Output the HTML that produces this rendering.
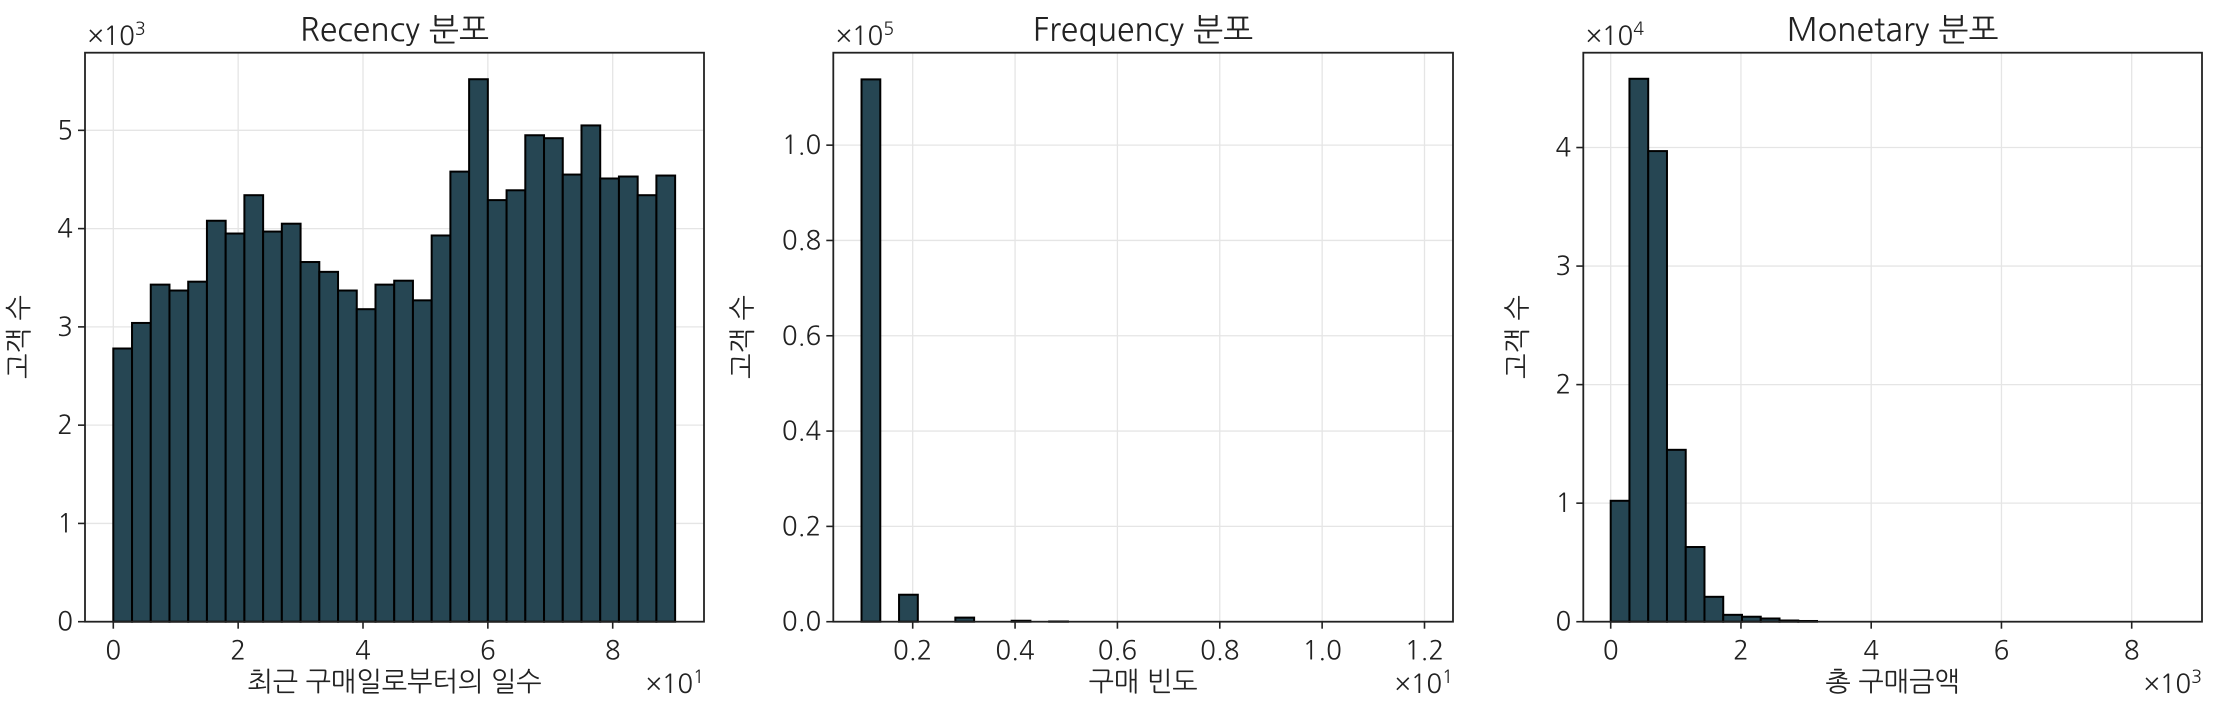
<!DOCTYPE html>
<html><head><meta charset="utf-8"><style>
html,body{margin:0;padding:0;background:#fff}
svg{display:block}
text{font-family:"NanumGothic","Liberation Sans","Noto Sans CJK KR",sans-serif;fill:#222}
</style></head><body>
<svg id="c" width="2217" height="716" viewBox="0 0 2217 716" xmlns="http://www.w3.org/2000/svg"></svg>
<script>
// Recency: 30 bins from 0 to 90 days (x10 units), counts in thousands
const recencyCounts = [2.78,3.04,3.43,3.37,3.46,4.08,3.95,4.34,3.97,4.05,3.66,3.56,3.37,3.18,3.43,3.47,3.27,3.93,4.58,5.52,4.29,4.39,4.95,4.92,4.55,5.05,4.51,4.53,4.34,4.54];
const recencyTicksX = ["0","2","4","6","8"];
const recencyTicksY = ["0","1","2","3","4","5"];
// Frequency: 30 bins from 1 to 12 (x10 units), counts in 1e5
const frequencyCounts = [1.138,0,0.0566,0,0,0.0086,0,0,0.002,0,0.0005,0,0,0,0,0,0,0,0,0,0,0,0,0,0,0,0,0,0,0];
const frequencyTicksX = ["0.2","0.4","0.6","0.8","1.0","1.2"];
const frequencyTicksY = ["0.0","0.2","0.4","0.6","0.8","1.0"];
// Monetary: 30 bins from 0 to 8.64 (x1e3), counts in 1e4
const monetaryCounts = [1.02,4.58,3.97,1.45,0.63,0.21,0.058,0.042,0.027,0.01,0.006,0,0,0,0,0,0,0,0,0,0,0,0,0,0,0,0,0,0,0];
const monetaryTicksX = ["0","2","4","6","8"];
const monetaryTicksY = ["0","1","2","3","4"];

const NS="http://www.w3.org/2000/svg";
const svg=document.getElementById('c');
function mk(tag,attrs,parent){const e=document.createElementNS(NS,tag);for(const k in attrs)e.setAttribute(k,attrs[k]);(parent||svg).appendChild(e);return e;}

function panel(o){
  const g=mk('g',{});
  
  
  const top=52.7,bot=621.7;
  const sx=v=>o.x0px+(v-o.x0)*(o.x1px-o.x0px)/(o.x1-o.x0);
  const sy=v=>bot-v*(bot-top)/o.ymax;
  o.xt.forEach(t=>{const v=parseFloat(t);const l=mk('line',{x1:sx(v),x2:sx(v),y1:top,y2:bot,stroke:'#e5e5e5','stroke-width':1.3},g);});
  o.yt.forEach(t=>{const v=parseFloat(t);const l=mk('line',{x1:o.L,x2:o.R,y1:sy(v),y2:sy(v),stroke:'#e5e5e5','stroke-width':1.3},g);});
  const n=o.counts.length,bw=(o.dmax-o.dmin)/n;
  o.counts.forEach((c,i)=>{
    const xa=sx(o.dmin+i*bw),xb=sx(o.dmin+(i+1)*bw);
    const r=mk('rect',{x:xa,y:sy(c),width:xb-xa,height:Math.max(0,bot-sy(c)),fill:'#264653',stroke:'#000','stroke-width':2},g);
    
    
  });
  const f=mk('rect',{x:o.L,y:top,width:o.R-o.L,height:bot-top,fill:'none',stroke:'#222','stroke-width':1.8},g);
  
  o.xt.forEach(t=>{const x=sx(parseFloat(t));
    mk('line',{x1:x,x2:x,y1:bot,y2:bot+7,stroke:'#222','stroke-width':1.6},g);
    const tx=mk('text',{x:x,y:bot+38,'text-anchor':'middle','font-size':26},g);tx.textContent=t;
    });
  o.yt.forEach(t=>{const y=sy(parseFloat(t));
    mk('line',{x1:o.L-7,x2:o.L,y1:y,y2:y,stroke:'#222','stroke-width':1.6},g);
    const tx=mk('text',{x:o.L-12,y:y+9,'text-anchor':'end','font-size':26},g);tx.textContent=t;
    });
  const ti=mk('text',{x:(o.L+o.R)/2,y:41,'text-anchor':'middle','font-size':32},g);ti.textContent=o.title;
  
  const yo=mk('text',{x:o.L+3,y:45,'font-size':26},g);yo.innerHTML='×10<tspan font-size="18" dy="-10">'+o.yexp+'</tspan>';
  
  const xo=mk('text',{x:o.R,y:693,'text-anchor':'end','font-size':26},g);xo.innerHTML='×10<tspan font-size="18" dy="-10">'+o.xexp+'</tspan>';
  
  const xl=mk('text',{x:(o.L+o.R)/2,y:691,'text-anchor':'middle','font-size':27},g);xl.textContent=o.xlabel;
  
  const yl=mk('text',{x:0,y:0,'text-anchor':'middle','font-size':27,transform:'translate('+(o.L-o.ylOff)+',337) rotate(-90)'},g);yl.textContent='고객 수';
  
}
panel({name:'recency-panel',title:'Recency 분포',xlabel:'최근 구매일로부터의 일수',counts:recencyCounts,xt:recencyTicksX,yt:recencyTicksY,ylOff:57,
  L:85,R:704,x0:0,x1:8,x0px:113.3,x1px:612.7,dmin:0,dmax:9,ymax:5.79,yexp:3,xexp:1});
panel({name:'frequency-panel',title:'Frequency 분포',xlabel:'구매 빈도',counts:frequencyCounts,xt:frequencyTicksX,yt:frequencyTicksY,ylOff:82,
  L:833.3,R:1453,x0:0.2,x1:1.2,x0px:912.7,x1px:1424.5,dmin:0.1,dmax:1.2,ymax:1.194,yexp:5,xexp:1});
panel({name:'monetary-panel',title:'Monetary 분포',xlabel:'총 구매금액',counts:monetaryCounts,xt:monetaryTicksX,yt:monetaryTicksY,ylOff:57,
  L:1583.3,R:2202,x0:0,x1:8,x0px:1610.7,x1px:2131.7,dmin:0,dmax:8.64,ymax:4.80,yexp:4,xexp:3});
</script>
</body></html>
